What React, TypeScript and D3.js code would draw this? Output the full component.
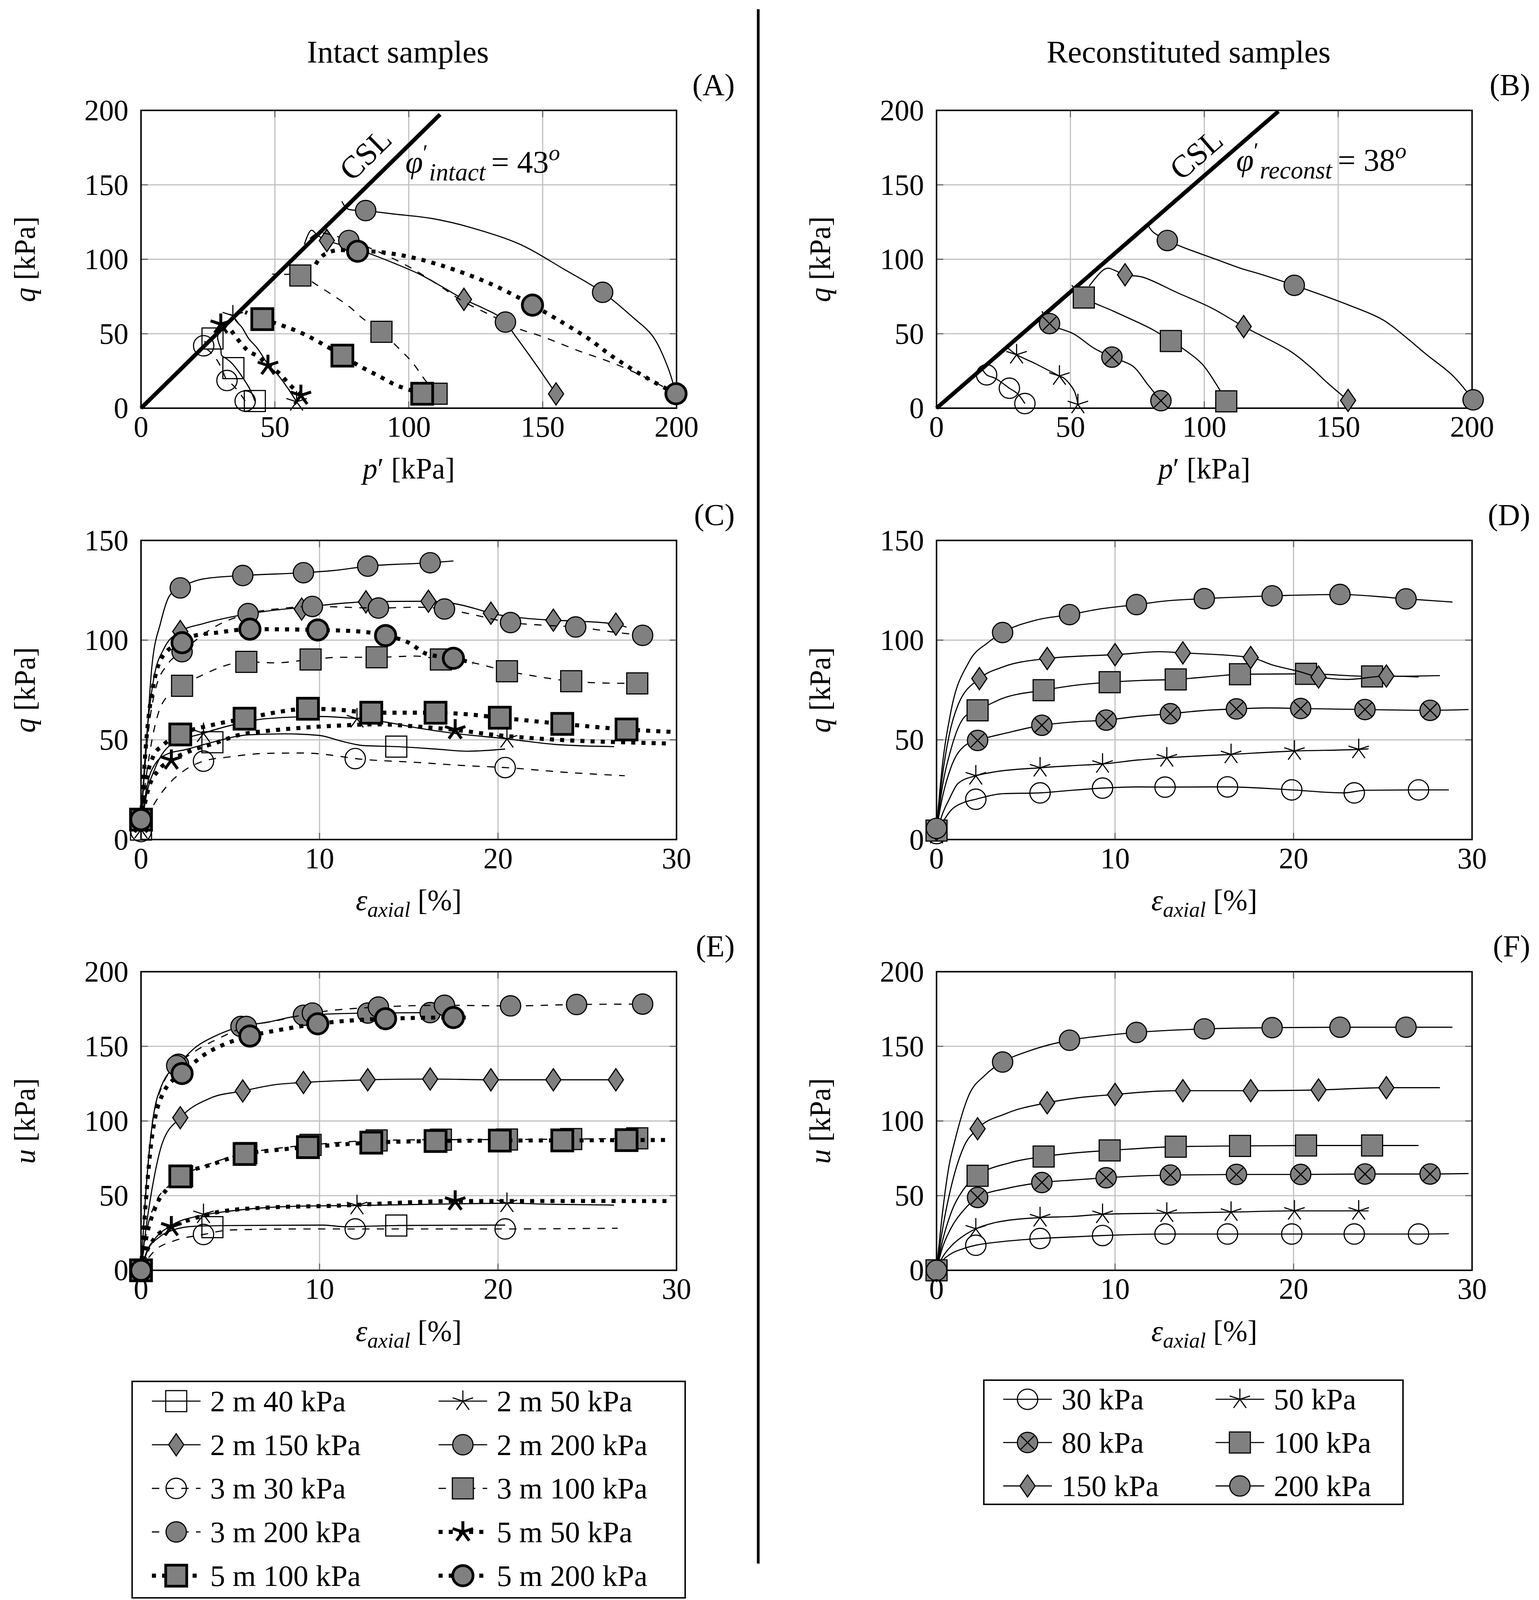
import React from 'react';
import * as d3 from 'd3';

type Pt = [number, number];
interface Run {
  line: Pt[];
  marks: Pt[];
}
type Dash = 'solid' | 'dashed' | 'dotted';
type Mark = 'square' | 'star' | 'diamond' | 'circle' | 'xcircle';
interface Sty {
  dash: Dash;
  mark: Mark;
  filled: boolean;
  bold: boolean;
}
// layout units -> page pixels
interface Geo {
  X: (u: number) => number;
  Y: (v: number) => number;
  S: number;
}

// the figure is laid out in a 1230 x 1565.6 unit frame (reference is 3940 x 5015 px)
const UW = 1230;
const UH = 1565.6;
const FONT = '"Liberation Serif", "Times New Roman", serif';
const GRAY = '#808080';

// ---------- labels ----------
const intactLabels = [
  '2 m 40 kPa', '2 m 50 kPa', '2 m 150 kPa', '2 m 200 kPa', '3 m 30 kPa',
  '3 m 100 kPa', '3 m 200 kPa', '5 m 50 kPa', '5 m 100 kPa', '5 m 200 kPa',
];
const reconLabels = ['30 kPa', '50 kPa', '80 kPa', '100 kPa', '150 kPa', '200 kPa'];

const pTicks = [0, 50, 100, 150, 200];
const strainTicks = [0, 10, 20, 30];
const qTicksShort = [0, 50, 100, 150];
const uTicks = [0, 50, 100, 150, 200];

const intactStyles: Sty[] = [
  { dash: 'solid', mark: 'square', filled: false, bold: false },
  { dash: 'solid', mark: 'star', filled: false, bold: false },
  { dash: 'solid', mark: 'diamond', filled: true, bold: false },
  { dash: 'solid', mark: 'circle', filled: true, bold: false },
  { dash: 'dashed', mark: 'circle', filled: false, bold: false },
  { dash: 'dashed', mark: 'square', filled: true, bold: false },
  { dash: 'dashed', mark: 'circle', filled: true, bold: false },
  { dash: 'dotted', mark: 'star', filled: false, bold: true },
  { dash: 'dotted', mark: 'square', filled: true, bold: true },
  { dash: 'dotted', mark: 'circle', filled: true, bold: true },
];
const reconStyles: Sty[] = [
  { dash: 'solid', mark: 'circle', filled: false, bold: false },
  { dash: 'solid', mark: 'star', filled: false, bold: false },
  { dash: 'solid', mark: 'xcircle', filled: true, bold: false },
  { dash: 'solid', mark: 'square', filled: true, bold: false },
  { dash: 'solid', mark: 'diamond', filled: true, bold: false },
  { dash: 'solid', mark: 'circle', filled: true, bold: false },
];

// ---------- critical state lines ----------
const cslIntact: Pt[] = [[0, 0], [111.7, 197.3]];
const cslRecon: Pt[] = [[0, 0], [127.7, 199.4]];

// ---------- (A) intact, p' - q ----------
const A_2m40: Run = {
  line: [[42.5, 4.8], [40.8, 12.3], [38.2, 20], [35.6, 26.6], [33.7, 30.6], [31.7, 33.5], [30.1, 35.5], [29.8, 40], [29, 44], [28.6, 48], [29.5, 52]],
  marks: [[26.7, 46.8], [34.5, 26.9], [42.5, 4.8]],
};
const A_2m50: Run = {
  line: [[58.1, 4.3], [55.2, 12.4], [51.3, 22], [47.4, 29.6], [43.5, 40.1], [40.2, 46.8], [37.6, 54.5], [35.6, 58.3], [34.3, 62.1], [33, 63]],
  marks: [[34.3, 62.1], [58.1, 4.3]],
};
const A_2m150: Run = {
  line: [[155, 9.6], [148, 28], [140, 48], [135, 60], [128, 67], [120.6, 73.1], [112, 82], [104, 90], [95, 97], [85, 104], [76, 109], [69.4, 112.6], [66, 116], [63.6, 119.5], [61, 110]],
  marks: [[69.4, 112.6], [120.6, 73.1], [155, 9.6]],
};
const A_2m200: Run = {
  line: [[199.8, 9.7], [196.6, 28.2], [191, 48.6], [183.7, 61], [172.4, 77.8], [158, 93.3], [141.6, 110], [123.2, 121.3], [108.6, 127.4], [94, 130.5], [83.9, 132.7], [77, 134], [75, 139]],
  marks: [[83.9, 132.7], [172.4, 77.8], [199.8, 9.7]],
};
const A_3m30: Run = {
  line: [[38.9, 4.8], [36.5, 11], [34, 16], [32.1, 18.6], [30.5, 25], [28.5, 32], [26, 37.5], [23.4, 41.9], [24, 45]],
  marks: [[23.4, 41.9], [32.1, 18.6], [38.9, 4.8]],
};
const A_3m100: Run = {
  line: [[110.4, 9.7], [106, 19.1], [101.4, 30.6], [96.8, 39.2], [89.8, 51.3], [82.5, 60.7], [78, 67.9], [72.7, 74.6], [66.9, 81.3], [59.5, 89.1], [53.2, 89.9], [49, 90]],
  marks: [[59.5, 89.1], [89.8, 51.3], [110.4, 9.7]],
};
const A_3m200: Run = {
  line: [[199.8, 9.7], [189.2, 19.9], [176.4, 30.2], [163.6, 38.4], [150, 48], [140, 54], [130, 63], [120, 72], [110, 84], [100, 95], [90, 104], [82, 110], [77.6, 112.6], [72, 116], [66, 117.5], [62, 112]],
  marks: [[77.6, 112.6], [136.1, 57.8], [199.8, 9.7]],
};
const A_5m50: Run = {
  line: [[59.7, 8.6], [55.8, 15.3], [51.3, 23.9], [47.4, 28.7], [44.1, 34.4], [40.2, 38.2], [37.6, 43], [35, 48.8], [33, 53.5], [29.8, 56.4], [28.5, 57]],
  marks: [[29.8, 56.4], [47.4, 28.7], [59.7, 8.6]],
};
const A_5m100: Run = {
  line: [[105, 9.7], [95.5, 15.3], [88.4, 22], [81.2, 28.7], [75.2, 35.3], [66.9, 44], [59.7, 50.7], [51.3, 56.4], [45.3, 59.8], [38.9, 64.5]],
  marks: [[45.3, 59.8], [75.2, 35.3], [105, 9.7]],
};
const A_5m200: Run = {
  line: [[199.8, 9.7], [189.3, 19.9], [176.4, 34.3], [167.2, 46.6], [158, 56.9], [146.2, 69.2], [130.6, 83.5], [112.3, 95.8], [99.5, 101.9], [88.5, 105], [80.9, 105.4], [73.4, 106.1], [69.5, 104.2], [66.9, 100.9], [64.6, 94.7]],
  marks: [[80.9, 105.4], [146.2, 69.2], [199.8, 9.7]],
};

// ---------- (B) reconstituted, p' - q ----------
const B_30: Run = {
  line: [[33, 3.1], [30.3, 9.6], [27.2, 13.4], [22, 20], [18.7, 22.4], [16.5, 28.1]],
  marks: [[33, 3.1], [27.2, 13.4], [18.7, 22.4]],
};
const B_50: Run = {
  line: [[52.8, 2.5], [51.4, 11.7], [47.7, 20], [45.9, 21.6], [36.7, 30.1], [29.9, 35.9], [26.6, 40.4]],
  marks: [[52.8, 2.5], [45.9, 21.6], [29.9, 35.9]],
};
const B_80: Run = {
  line: [[83.8, 5], [78.9, 15.8], [73.4, 28.1], [65.5, 34.3], [58.7, 40.4], [51.4, 49.7], [42.2, 56.8], [39.4, 65.1]],
  marks: [[83.8, 5], [65.5, 34.3], [42.2, 56.8]],
};
const B_100: Run = {
  line: [[108.2, 4.6], [104.6, 15.7], [99, 30], [91.7, 40.4], [87.5, 45.1], [80.7, 52.8], [66, 65.2], [55, 74.3], [50.5, 82.6]],
  marks: [[108.2, 4.6], [87.5, 45.1], [55, 74.3]],
};
const B_150: Run = {
  line: [[153.7, 5.2], [146, 17], [139.4, 28], [132, 38.4], [114.7, 54.8], [102.8, 67.2], [90, 77.5], [77, 88], [70.4, 89.6], [64.2, 94], [62.4, 93], [57, 82]],
  marks: [[153.7, 5.2], [114.7, 54.8], [70.4, 89.6]],
};
const B_200: Run = {
  line: [[200.4, 5.6], [192.7, 22], [183, 36], [176, 46.6], [167, 59], [154, 69.2], [133.6, 82.5], [121, 90], [113.8, 93.8], [102.8, 101], [91.7, 108.3], [86.2, 112.6], [80.7, 118.6], [79, 123]],
  marks: [[200.4, 5.6], [133.6, 82.5], [86.2, 112.6]],
};

// ---------- (C) intact, strain - q ----------
const C_2m40: Run = {
  line: [[0, 5], [0.3, 25], [0.8, 38], [1.5, 43], [2.45, 45], [4, 48.8], [6, 52.5], [8.1, 53], [10, 52.2], [11.2, 49.4], [12.5, 47.1], [14.3, 46.6], [16.5, 45.4], [18.3, 44.3], [20.4, 45.4]],
  marks: [[0, 5], [4, 48.8], [14.3, 46.6]],
};
const C_2m50: Run = {
  line: [[0, 5], [0.3, 22], [0.8, 36], [1.6, 47], [3.5, 53.3], [5, 57.2], [7, 60.6], [10, 61.7], [12.1, 60.6], [13.7, 58.9], [15.4, 56.1], [17.5, 53.3], [20.5, 50.5], [23.2, 47.7], [26.5, 46.6]],
  marks: [[0, 5], [3.5, 53.3], [12.1, 60.6], [20.5, 50.5]],
};
const C_2m150: Run = {
  line: [[0, 10], [0.3, 50], [0.7, 80], [1.3, 96], [2.2, 104.3], [3.5, 108.3], [5.4, 112.2], [7, 114.5], [9.1, 116.5], [12.6, 119.2], [16.1, 119.5], [17.5, 118.4], [18.8, 115.6], [19.6, 113.5], [21.5, 111], [23.1, 110], [24.8, 109.4], [26.6, 108], [27.2, 106.5]],
  marks: [[0, 10], [2.2, 104.3], [9, 115.6], [12.6, 119.2], [16.1, 119.5], [19.6, 113.5], [23.1, 110], [26.6, 108]],
};
const C_2m200: Run = {
  line: [[0, 10], [0.25, 40], [0.6, 86], [1.1, 108.8], [1.6, 122.3], [2.2, 126.2], [3.5, 130.7], [5.7, 132.4], [9.1, 133.8], [10.8, 134.9], [12.7, 137.1], [16.2, 138.8], [17.5, 139.7]],
  marks: [[0, 10], [2.2, 126.2], [5.7, 132.4], [9.1, 133.8], [12.7, 137.1], [16.2, 138.8]],
};
const C_3m30: Run = {
  line: [[0, 4], [0.5, 14], [1.2, 24], [2.45, 34.8], [3.5, 39.3], [5, 41.5], [7, 43.2], [9.1, 43.4], [10.4, 42.6], [12, 40.6], [15.4, 38.7], [18.3, 37], [20.4, 36.1], [23.8, 33.7], [27.1, 32]],
  marks: [[0, 4], [3.5, 39.3], [12, 40.6], [20.4, 36.1]],
};
const C_3m100: Run = {
  line: [[0, 10], [0.36, 36], [1.2, 68.4], [2.3, 77.1], [3.3, 81.9], [5.9, 89.1], [7.5, 88.6], [9.5, 90.3], [11.2, 91.4], [13.2, 91.4], [15.4, 92], [16.8, 90.3], [18.6, 88.6], [20.5, 84.4], [21.7, 82.5], [24.1, 79.4], [25.9, 78.5], [27.8, 78.3]],
  marks: [[0, 10], [2.3, 77.1], [5.9, 89.1], [9.5, 90.3], [13.2, 91.4], [16.8, 90.3], [20.5, 84.4], [24.1, 79.4], [27.8, 78.3]],
};
const C_3m200: Run = {
  line: [[0, 10], [0.3, 45], [0.8, 75], [1.5, 88], [2.3, 94.2], [4, 106], [6, 113.3], [8, 116], [9.6, 116.9], [13.3, 116.1], [15.5, 116.5], [17, 115.6], [18.5, 113], [20.7, 108.8], [22.5, 107.5], [24.35, 106.6], [26.5, 104], [28.1, 102.4], [28.5, 102]],
  marks: [[0, 10], [2.3, 94.2], [6, 113.3], [9.6, 116.9], [13.3, 116.1], [17, 115.6], [20.7, 108.8], [24.35, 106.6], [28.1, 102.4]],
};
const C_5m50: Run = {
  line: [[0, 8], [0.4, 25], [1, 35], [1.7, 39.8], [2.9, 44.9], [4.1, 48.2], [5.6, 52.7], [7, 54.4], [9.1, 56.1], [11.2, 57.2], [13.3, 57.8], [15.4, 56.7], [17.6, 55], [19.6, 52.7], [21.7, 51], [24.8, 49.4], [26.9, 48.8], [29.4, 48.2]],
  marks: [[0, 8], [1.7, 39.8], [17.6, 55]],
};
const C_5m100: Run = {
  line: [[0, 10], [0.3, 30], [0.7, 42], [1.2, 47.1], [2.2, 52.7], [4, 57.5], [5.8, 60.6], [7.7, 64], [9.35, 65.6], [11.2, 65], [12.9, 63.6], [16.5, 63.6], [18.3, 62.8], [20.1, 61.1], [23.6, 58], [27.2, 55.2], [30, 53.9]],
  marks: [[0, 10], [2.2, 52.7], [5.8, 60.6], [9.35, 65.6], [12.9, 63.6], [16.5, 63.6], [20.1, 61.1], [23.6, 58], [27.2, 55.2]],
};
const C_5m200: Run = {
  line: [[0, 10], [0.3, 50], [0.8, 82], [1.4, 94], [2.3, 98.7], [2.9, 102], [4.3, 103.8], [6.1, 105.5], [9.9, 105.1], [12.3, 104.3], [13.7, 102.3], [15, 98.7], [16, 93.1], [17.5, 90.9], [18.6, 88.6]],
  marks: [[0, 10], [2.3, 98.7], [6.1, 105.5], [9.9, 105.1], [13.7, 102.3], [17.5, 90.9]],
};

// ---------- (D) reconstituted, strain - q ----------
const D_30: Run = {
  line: [[0, 3], [0.3, 8], [0.8, 14.6], [1.5, 18.5], [2.2, 20.2], [3.7, 23], [5.8, 23.4], [7.3, 24.5], [9.3, 25.8], [11.3, 26.4], [12.8, 26.3], [16.3, 26.4], [19.9, 24.9], [22.8, 23.4], [24, 24.7], [27, 24.9], [28.7, 24.9]],
  marks: [[0, 3], [2.2, 20.2], [5.8, 23.4], [9.3, 25.8], [12.8, 26.3], [16.3, 26.4], [19.9, 24.9], [23.4, 23.4], [27, 24.9]],
};
const D_50: Run = {
  line: [[0, 2.5], [0.3, 12], [0.7, 20], [1.2, 28.1], [2.2, 32], [3.1, 33.7], [5.8, 36], [7.7, 37.1], [9.3, 37.9], [11.3, 39.9], [12.9, 41], [16.5, 42.7], [20.05, 44.4], [23.65, 45.2], [24.2, 45.5]],
  marks: [[0, 2.5], [2.2, 32], [5.8, 36], [9.3, 37.9], [12.9, 41], [16.5, 42.7], [20.05, 44.4], [23.65, 45.2]],
};
const D_80: Run = {
  line: [[0, 5], [0.3, 20], [0.8, 36], [1.6, 47.2], [2.3, 49.7], [3.9, 53.4], [5.9, 57.3], [7.7, 59], [9.5, 59.9], [11.3, 61.8], [13.1, 63.1], [14.8, 64.6], [16.8, 65.5], [18.6, 66], [20.4, 65.7], [24, 65.2], [27.65, 64.8], [29.8, 65.2]],
  marks: [[0, 5], [2.3, 49.7], [5.9, 57.3], [9.5, 59.9], [13.1, 63.1], [16.8, 65.5], [20.4, 65.7], [24, 65.2], [27.65, 64.8]],
};
const D_100: Run = {
  line: [[0, 4.5], [0.3, 25], [0.8, 45], [1.6, 61.8], [2.3, 64.8], [3.7, 70.8], [6, 74.9], [7.9, 77.5], [9.7, 78.9], [11.5, 79.8], [13.4, 80.3], [15.7, 82], [17, 82.9], [20.7, 83.1], [24.4, 81.8], [28.2, 82.2]],
  marks: [[0, 4.5], [2.3, 64.8], [6, 74.9], [9.7, 78.9], [13.4, 80.3], [17, 82.9], [20.7, 83.1], [24.4, 81.8]],
};
const D_150: Run = {
  line: [[0, 5], [0.3, 30], [0.7, 52], [1.2, 67.4], [2.4, 80.7], [3.7, 86.5], [6.2, 90.8], [8.3, 92.1], [10, 92.7], [12.5, 94.2], [13.8, 93.6], [17.6, 91.3], [18.8, 87.6], [20.3, 84.3], [21.4, 81.5], [23, 80.3], [25.2, 82], [27, 81.5]],
  marks: [[0, 5], [2.4, 80.7], [6.2, 90.8], [10, 92.7], [13.8, 93.6], [17.6, 91.3], [21.4, 81.5], [25.2, 82]],
};
const D_200: Run = {
  line: [[0, 5.6], [0.3, 35], [0.8, 64], [1.8, 88.8], [2.9, 98.9], [3.7, 103.8], [5.6, 110.1], [7.45, 112.8], [9.2, 115.7], [11.2, 117.8], [12.9, 119.7], [15, 120.8], [18.8, 122.2], [22.6, 122.9], [26.3, 120.7], [28.9, 119.1]],
  marks: [[0, 5.6], [3.7, 103.8], [7.45, 112.8], [11.2, 117.8], [15, 120.8], [18.8, 122.2], [22.6, 122.9], [26.3, 120.7]],
};

// ---------- (E) intact, strain - u ----------
const E_2m40: Run = {
  line: [[0, 0], [0.4, 14], [1, 22], [1.8, 27], [3, 29.5], [5, 30], [10.2, 30.3], [11.4, 29.2], [14.3, 30], [20.4, 30.3]],
  marks: [[0, 0], [4, 28.9], [14.3, 30]],
};
const E_2m50: Run = {
  line: [[0, 0], [0.3, 12], [0.77, 21], [1.7, 30], [3.5, 37], [5, 39.7], [7, 42], [9, 43], [12.1, 43.4], [15, 44], [17.5, 44.5], [20.5, 44.9], [23, 44.2], [26.5, 43.7]],
  marks: [[0, 0], [3.5, 37.5], [12.1, 43.4], [20.5, 44.9]],
};
const E_2m150: Run = {
  line: [[0, 0], [0.3, 30], [0.7, 60], [1.2, 85.4], [2.2, 102.2], [3.9, 115.4], [5.7, 120.1], [7.5, 124.3], [9.1, 125.8], [11.2, 127], [12.7, 127.6], [16.2, 128.1], [19.6, 127.6], [23.1, 127.6], [27, 127.6]],
  marks: [[0, 0], [2.2, 102.2], [5.7, 120.1], [9.1, 125.8], [12.7, 127.6], [16.2, 128.1], [19.6, 127.6], [23.1, 127.6], [26.6, 127.6]],
};
const E_2m200: Run = {
  line: [[0, 0], [0.2, 40], [0.6, 95], [1.2, 125], [2.1, 138], [3.1, 149.8], [4.1, 156.6], [5.6, 163.3], [7, 166], [9.1, 170.8], [12.7, 172.3], [16.2, 172.6], [17.5, 172.6]],
  marks: [[0, 0], [2.1, 138], [5.6, 163.3], [9.1, 170.8], [12.7, 172.3], [16.2, 172.6]],
};
const E_3m30: Run = {
  line: [[0, 0], [0.4, 8], [0.8, 13.5], [1.8, 19.5], [3.5, 24], [5, 27], [9.1, 27.7], [12, 27.7], [20.4, 27.7], [26.7, 28.2]],
  marks: [[0, 0], [3.5, 24], [12, 27.7], [20.4, 27.7]],
};
const E_3m100: Run = {
  line: [[0, 0], [0.3, 25], [0.8, 45], [1.5, 56], [2.3, 63], [4, 72], [5.9, 78.5], [7.5, 81.5], [9.5, 84], [13.2, 87], [16.8, 87.5], [20.5, 87.6], [24.1, 87.9], [27.8, 88.4]],
  marks: [[0, 0], [2.3, 63], [5.9, 78.5], [9.5, 84], [13.2, 87], [16.8, 87.5], [20.5, 87.6], [24.1, 87.9], [27.8, 88.4]],
};
const E_3m200: Run = {
  line: [[0, 0], [0.2, 40], [0.6, 95], [1.2, 124], [2, 137], [3.2, 148], [4.3, 155], [5.9, 163.3], [7.5, 167], [9.6, 172.3], [13.3, 176.3], [17, 177.5], [20.7, 177.1], [24.4, 178], [28.1, 178.3]],
  marks: [[0, 0], [2, 137.1], [5.9, 163.3], [9.6, 172.3], [13.3, 176.3], [17, 177.5], [20.7, 177.1], [24.4, 178], [28.1, 178.3]],
};
const E_5m50: Run = {
  line: [[0, 0], [0.3, 12], [0.8, 22], [1.7, 29.2], [2.9, 34.5], [4.3, 39], [7, 42], [11.2, 43.4], [15.4, 45.7], [17.6, 46.4], [21.7, 46.4], [29.5, 46.4]],
  marks: [[0, 0], [1.7, 29.2], [17.6, 46.4]],
};
const E_5m100: Run = {
  line: [[0, 0], [0.3, 22], [0.8, 42], [1.5, 55], [2.2, 62.9], [4, 71], [5.8, 77.9], [7.5, 80.5], [9.35, 82.5], [12.9, 85.5], [16.5, 86.6], [20.1, 86.9], [23.6, 87], [27.2, 87.2], [29.6, 87.3]],
  marks: [[0, 0], [2.2, 62.9], [5.8, 77.9], [9.35, 82.5], [12.9, 85.5], [16.5, 86.6], [20.1, 86.9], [23.6, 87], [27.2, 87.2]],
};
const E_5m200: Run = {
  line: [[0, 0], [0.2, 35], [0.6, 88], [1.3, 120], [2.3, 131.8], [3.5, 144], [4.8, 152], [6.1, 156.9], [8, 161.5], [9.9, 165.1], [13.7, 168.5], [17.5, 169.3], [18.45, 169.3]],
  marks: [[0, 0], [2.3, 131.8], [6.1, 156.9], [9.9, 165.1], [13.7, 168.5], [17.5, 169.3]],
};

// ---------- (F) reconstituted, strain - u ----------
const F_30: Run = {
  line: [[0, 0], [0.3, 6], [0.8, 11], [1.5, 14.5], [2.2, 16.8], [3.5, 19], [5.8, 21.3], [7.5, 22.3], [9.3, 23.3], [12.8, 24.3], [16.3, 24.3], [19.9, 24.3], [23.4, 24.3], [27, 24.3], [28.7, 24.5]],
  marks: [[0, 0], [2.2, 16.8], [5.8, 21.3], [9.3, 23.3], [12.8, 24.3], [16.3, 24.3], [19.9, 24.3], [23.4, 24.3], [27, 24.3]],
};
const F_50: Run = {
  line: [[0, 0], [0.3, 8], [0.8, 16], [1.5, 23], [2.2, 27.8], [3.3, 32], [5.8, 35.3], [7.5, 36], [9.3, 37.5], [12.9, 38.3], [16.5, 39], [20.05, 39.8], [23.65, 39.8], [24.2, 39.8]],
  marks: [[0, 0], [2.2, 27.8], [5.8, 35.3], [9.3, 37.5], [12.9, 38.3], [16.5, 39], [20.05, 39.8], [23.65, 39.8]],
};
const F_80: Run = {
  line: [[0, 0], [0.3, 14], [0.8, 28], [1.5, 40], [2.3, 48.8], [4, 55], [5.9, 58.8], [7.7, 60.5], [9.5, 62], [13.1, 63.8], [16.8, 64.2], [20.4, 64.2], [24, 64.5], [27.65, 64.5], [29.8, 64.8]],
  marks: [[0, 0], [2.3, 48.8], [5.9, 58.8], [9.5, 62], [13.1, 63.8], [16.8, 64.2], [20.4, 64.2], [24, 64.5], [27.65, 64.5]],
};
const F_100: Run = {
  line: [[0, 0], [0.3, 18], [0.8, 38], [1.5, 54], [2.3, 63.3], [4.1, 72], [6, 76.2], [7.9, 78.8], [9.7, 80.3], [13.4, 82.8], [17, 83.3], [20.7, 83.6], [24.4, 83.6], [27, 83.6]],
  marks: [[0, 0], [2.3, 63.3], [6, 76.2], [9.7, 80.3], [13.4, 82.8], [17, 83.3], [20.7, 83.6], [24.4, 83.6]],
};
const F_150: Run = {
  line: [[0, 0], [0.3, 25], [0.8, 55], [1.5, 82], [2.3, 94.8], [3.9, 105], [6.2, 112.2], [7.9, 115.5], [10, 117.8], [12.5, 120], [13.8, 120.3], [17.6, 120.3], [21.4, 120.8], [25.2, 122.3], [28.2, 122.3]],
  marks: [[0, 0], [2.3, 94.8], [6.2, 112.2], [10, 117.8], [13.8, 120.3], [17.6, 120.3], [21.4, 120.8], [25.2, 122.3]],
};
const F_200: Run = {
  line: [[0, 0], [0.3, 35], [0.7, 70], [1, 85.5], [1.8, 117], [2.7, 130.5], [3.7, 139.5], [5.2, 147], [7.45, 154.1], [9.4, 157.2], [11.2, 159.3], [15, 161.7], [18.8, 162.5], [22.6, 162.8], [26.3, 162.8], [28.9, 162.8]],
  marks: [[0, 0], [3.7, 139.5], [7.45, 154.1], [11.2, 159.3], [15, 161.7], [18.8, 162.5], [22.6, 162.8], [26.3, 162.8]],
};

const panelA = [A_2m40, A_2m50, A_2m150, A_2m200, A_3m30, A_3m100, A_3m200, A_5m50, A_5m100, A_5m200];
const panelB = [B_30, B_50, B_80, B_100, B_150, B_200];
const panelC = [C_2m40, C_2m50, C_2m150, C_2m200, C_3m30, C_3m100, C_3m200, C_5m50, C_5m100, C_5m200];
const panelD = [D_30, D_50, D_80, D_100, D_150, D_200];
const panelE = [E_2m40, E_2m50, E_2m150, E_2m200, E_3m30, E_3m100, E_3m200, E_5m50, E_5m100, E_5m200];
const panelF = [F_30, F_50, F_80, F_100, F_150, F_200];

// ---------- drawing helpers ----------
function lineProps(s: Sty, k: number) {
  if (s.dash === 'dotted') return { strokeWidth: 3.6 * k, strokeDasharray: `${3.6 * k} ${5.4 * k}` };
  if (s.dash === 'dashed') return { strokeWidth: 1.0 * k, strokeDasharray: `${6.5 * k} ${6.5 * k}` };
  return { strokeWidth: 1.0 * k };
}

function Marker({ s, x, y, k }: { s: Sty; x: number; y: number; k: number }) {
  const sw = (s.bold ? 2.4 : 1.0) * k;
  const fill = s.filled ? GRAY : 'none';
  const r = 9 * k;
  if (s.mark === 'circle') {
    return <circle cx={x} cy={y} r={r} fill={fill} stroke="#000" strokeWidth={sw} />;
  }
  if (s.mark === 'square') {
    const a = 9.3 * k;
    return <rect x={x - a} y={y - a} width={2 * a} height={2 * a} fill={fill} stroke="#000" strokeWidth={sw} />;
  }
  if (s.mark === 'diamond') {
    const dx = 6.7 * k;
    const dy = 9.8 * k;
    return <path d={`M${x},${y - dy}L${x + dx},${y}L${x},${y + dy}L${x - dx},${y}Z`} fill={fill} stroke="#000" strokeWidth={sw} />;
  }
  if (s.mark === 'xcircle') {
    const d = r * Math.SQRT1_2;
    return (
      <g>
        <circle cx={x} cy={y} r={r} fill={fill} stroke="#000" strokeWidth={sw} />
        <path d={`M${x - d},${y - d}L${x + d},${y + d}M${x - d},${y + d}L${x + d},${y - d}`} stroke="#000" strokeWidth={k} />
      </g>
    );
  }
  // five-spoke star
  const rs = 9.5 * k;
  const spokes = [-90, -18, 54, 126, 198]
    .map((a) => {
      const t = (a * Math.PI) / 180;
      return `M${x},${y}L${x + rs * Math.cos(t)},${y + rs * Math.sin(t)}`;
    })
    .join('');
  return <path d={spokes} fill="none" stroke="#000" strokeWidth={(s.bold ? 2.6 : 1.0) * k} />;
}

interface PanelProps {
  g: Geo;
  x0: number;
  y0: number;
  w: number;
  h: number;
  xMax: number;
  yMax: number;
  xTicks: number[];
  yTicks: number[];
  runs: Run[];
  styles: Sty[];
  path: boolean;
  xLabel: React.ReactNode;
  yLabel: React.ReactNode;
  letter: string;
  csl?: Pt[];
}

function Panel(props: PanelProps) {
  const { g, x0, y0, w, h, xMax, yMax, xTicks, yTicks, runs, styles, path, xLabel, yLabel, letter, csl } = props;
  const k = g.S;
  const left = g.X(x0);
  const right = g.X(x0 + w);
  const top = g.Y(y0);
  const bottom = g.Y(y0 + h);
  const x = d3.scaleLinear().domain([0, xMax]).range([left, right]);
  const y = d3.scaleLinear().domain([0, yMax]).range([bottom, top]);
  const gen = d3
    .line<Pt>()
    .x((d) => x(d[0]))
    .y((d) => y(d[1]))
    .curve(path ? d3.curveCatmullRom.alpha(0.5) : d3.curveMonotoneX);
  const straight = d3
    .line<Pt>()
    .x((d) => x(d[0]))
    .y((d) => y(d[1]));
  const tk = 6 * k;

  return (
    <g>
      {xTicks.map((t) => (
        <line key={'gx' + t} x1={x(t)} x2={x(t)} y1={top} y2={bottom} stroke="#bfbfbf" strokeWidth={k} />
      ))}
      {yTicks.map((t) => (
        <line key={'gy' + t} x1={left} x2={right} y1={y(t)} y2={y(t)} stroke="#bfbfbf" strokeWidth={k} />
      ))}
      {xTicks.map((t) => (
        <path key={'tx' + t} d={`M${x(t)},${bottom}v${-tk}M${x(t)},${top}v${tk}`} stroke="#666" strokeWidth={k} />
      ))}
      {yTicks.map((t) => (
        <path key={'ty' + t} d={`M${left},${y(t)}h${tk}M${right},${y(t)}h${-tk}`} stroke="#666" strokeWidth={k} />
      ))}
      <rect x={left} y={top} width={right - left} height={bottom - top} fill="none" stroke="#000" strokeWidth={1.3 * k} />

      {csl && <path d={straight(csl) || ''} fill="none" stroke="#000" strokeWidth={3.6 * k} />}

      {runs.map((r, i) => (
        <g key={'run' + i}>
          <path d={gen(r.line) || ''} fill="none" stroke="#000" {...lineProps(styles[i], k)} />
          {r.marks.map((m, j) => (
            <Marker key={j} s={styles[i]} x={x(m[0])} y={y(m[1])} k={k} />
          ))}
        </g>
      ))}

      {xTicks.map((t) => (
        <text key={'lx' + t} x={x(t)} y={g.Y(y0 + h + 28)} textAnchor="middle" fontSize={26 * k}>
          {t}
        </text>
      ))}
      {yTicks.map((t) => (
        <text key={'ly' + t} x={g.X(x0 - 10)} y={y(t) + 8.8 * k} textAnchor="end" fontSize={26 * k}>
          {t}
        </text>
      ))}
      <text x={(left + right) / 2} y={g.Y(y0 + h + 69)} textAnchor="middle" fontSize={26 * k}>
        {xLabel}
      </text>
      <text transform={`translate(${g.X(x0 - 85)},${(top + bottom) / 2}) rotate(-90)`} textAnchor="middle" fontSize={26 * k}>
        {yLabel}
      </text>
      <text x={g.X(x0 + w + 46.5)} y={g.Y(y0 - 15)} textAnchor="end" fontSize={27 * k}>
        {letter}
      </text>
    </g>
  );
}

const pLabel = (
  <>
    <tspan fontStyle="italic">p</tspan>′ [kPa]
  </>
);
const qLabel = (
  <>
    <tspan fontStyle="italic">q</tspan> [kPa]
  </>
);
const uLabel = (
  <>
    <tspan fontStyle="italic">u</tspan> [kPa]
  </>
);
const epsLabel = (k: number) => (
  <>
    <tspan fontStyle="italic">ε</tspan>
    <tspan fontStyle="italic" fontSize={19 * k} dy={6 * k}>
      axial
    </tspan>
    <tspan dy={-6 * k}> [%]</tspan>
  </>
);

function Legend({
  g,
  box,
  colX,
  rowY,
  labels,
  styles,
}: {
  g: Geo;
  box: [number, number, number, number];
  colX: number[];
  rowY: number[];
  labels: string[];
  styles: Sty[];
}) {
  const k = g.S;
  return (
    <g>
      <rect
        x={g.X(box[0])}
        y={g.Y(box[1])}
        width={g.X(box[2]) - g.X(box[0])}
        height={g.Y(box[3]) - g.Y(box[1])}
        fill="#fff"
        stroke="#000"
        strokeWidth={1.3 * k}
      />
      {labels.map((lab, i) => {
        const lx = g.X(colX[i % 2]);
        const ly = g.Y(rowY[Math.floor(i / 2)]);
        const s = styles[i];
        return (
          <g key={lab}>
            <line x1={lx} x2={lx + 43 * k} y1={ly} y2={ly} stroke="#000" {...lineProps(s, k)} />
            <Marker s={s} x={lx + 21.5 * k} y={ly} k={k} />
            <text x={lx + 51.5 * k} y={ly + 9 * k} fontSize={26.5 * k}>
              {lab}
            </text>
          </g>
        );
      })}
    </g>
  );
}

function CslNote({ x, y, angle, k }: { x: number; y: number; angle: number; k: number }) {
  return (
    <text transform={`translate(${x},${y}) rotate(${angle})`} textAnchor="middle" dy={9.5 * k} fontSize={28 * k}>
      CSL
    </text>
  );
}

// friction angle note, one text element: phi, prime, subscript, "= value", superscript o
function PhiNote({ x, y, k, sub, value }: { x: number; y: number; k: number; sub: string; value: string }) {
  return (
    <text x={x} y={y} fontSize={28 * k}>
      <tspan fontStyle="italic">φ</tspan>
      <tspan fontSize={20 * k} dy={-11 * k}>
        ′
      </tspan>
      <tspan fontSize={22 * k} fontStyle="italic" dx={1 * k} dy={18 * k}>
        {sub}
      </tspan>
      <tspan dx={5 * k} dy={-7 * k}>
        = {value}
      </tspan>
      <tspan fontSize={20 * k} fontStyle="italic" dy={-11 * k}>
        o
      </tspan>
    </text>
  );
}

const colX0 = [112.7, 748.5];
const rowsY0 = [108, 528.8, 950.8];
const PW = 428;
const PH = [291.4, 292.7, 292.2];

export default function App() {
  // the capture may be shorter than the 5015 px asked for; fit the figure's height to it
  const pageW = 3940;
  const vh = typeof window !== 'undefined' && window.innerHeight > 0 ? window.innerHeight : 5015;
  const pageH = Math.min(5015, vh);
  const sx = pageW / UW;
  const sy = pageH / UH;
  const g: Geo = { X: (u) => u * sx, Y: (v) => v * sy, S: Math.sqrt(sx * sy) };
  const k = g.S;

  const angle = (end: Pt) =>
    (Math.atan2(-((end[1] / 200) * PH[0]) * sy, (end[0] / 200) * PW * sx) * 180) / Math.PI;

  return (
    <svg
      width={pageW}
      height={pageH}
      viewBox={`0 0 ${pageW} ${pageH}`}
      style={{ position: 'absolute', left: 0, top: 0, display: 'block' }}
      fontFamily={FONT}
    >
      <rect x={0} y={0} width={pageW} height={pageH} fill="#fff" />
      <line x1={g.X(606)} x2={g.X(606)} y1={g.Y(9)} y2={g.Y(1530)} stroke="#000" strokeWidth={2.4 * k} />

      <text x={g.X(318)} y={g.Y(61)} textAnchor="middle" fontSize={28 * k}>
        Intact samples
      </text>
      <text x={g.X(950)} y={g.Y(61)} textAnchor="middle" fontSize={28 * k}>
        Reconstituted samples
      </text>

      <Panel g={g} x0={colX0[0]} y0={rowsY0[0]} w={PW} h={PH[0]} xMax={200} yMax={200} xTicks={pTicks} yTicks={pTicks}
        runs={panelA} styles={intactStyles} path xLabel={pLabel} yLabel={qLabel} letter="(A)" csl={cslIntact} />
      <Panel g={g} x0={colX0[1]} y0={rowsY0[0]} w={PW} h={PH[0]} xMax={200} yMax={200} xTicks={pTicks} yTicks={pTicks}
        runs={panelB} styles={reconStyles} path xLabel={pLabel} yLabel={qLabel} letter="(B)" csl={cslRecon} />
      <Panel g={g} x0={colX0[0]} y0={rowsY0[1]} w={PW} h={PH[1]} xMax={30} yMax={150} xTicks={strainTicks} yTicks={qTicksShort}
        runs={panelC} styles={intactStyles} path={false} xLabel={epsLabel(k)} yLabel={qLabel} letter="(C)" />
      <Panel g={g} x0={colX0[1]} y0={rowsY0[1]} w={PW} h={PH[1]} xMax={30} yMax={150} xTicks={strainTicks} yTicks={qTicksShort}
        runs={panelD} styles={reconStyles} path={false} xLabel={epsLabel(k)} yLabel={qLabel} letter="(D)" />
      <Panel g={g} x0={colX0[0]} y0={rowsY0[2]} w={PW} h={PH[2]} xMax={30} yMax={200} xTicks={strainTicks} yTicks={uTicks}
        runs={panelE} styles={intactStyles} path={false} xLabel={epsLabel(k)} yLabel={uLabel} letter="(E)" />
      <Panel g={g} x0={colX0[1]} y0={rowsY0[2]} w={PW} h={PH[2]} xMax={30} yMax={200} xTicks={strainTicks} yTicks={uTicks}
        runs={panelF} styles={reconStyles} path={false} xLabel={epsLabel(k)} yLabel={uLabel} letter="(F)" />

      <CslNote x={g.X(292)} y={g.Y(151)} angle={angle(cslIntact[1])} k={k} />
      <CslNote x={g.X(956)} y={g.Y(151)} angle={angle(cslRecon[1])} k={k} />
      <PhiNote x={g.X(324)} y={g.Y(169)} k={k} sub="intact" value="43" />
      <PhiNote x={g.X(988)} y={g.Y(167)} k={k} sub="reconst" value="38" />

      <Legend
        g={g}
        box={[105.6, 1351.7, 547.6, 1563.5]}
        colX={[121.4, 350.5]}
        rowY={[1371, 1413.7, 1456.4, 1499, 1541.8]}
        labels={intactLabels}
        styles={intactStyles}
      />
      <Legend
        g={g}
        box={[786.3, 1350.5, 1121.3, 1472]}
        colX={[801.8, 971.5]}
        rowY={[1369.2, 1411.5, 1454]}
        labels={reconLabels}
        styles={reconStyles}
      />
    </svg>
  );
}
